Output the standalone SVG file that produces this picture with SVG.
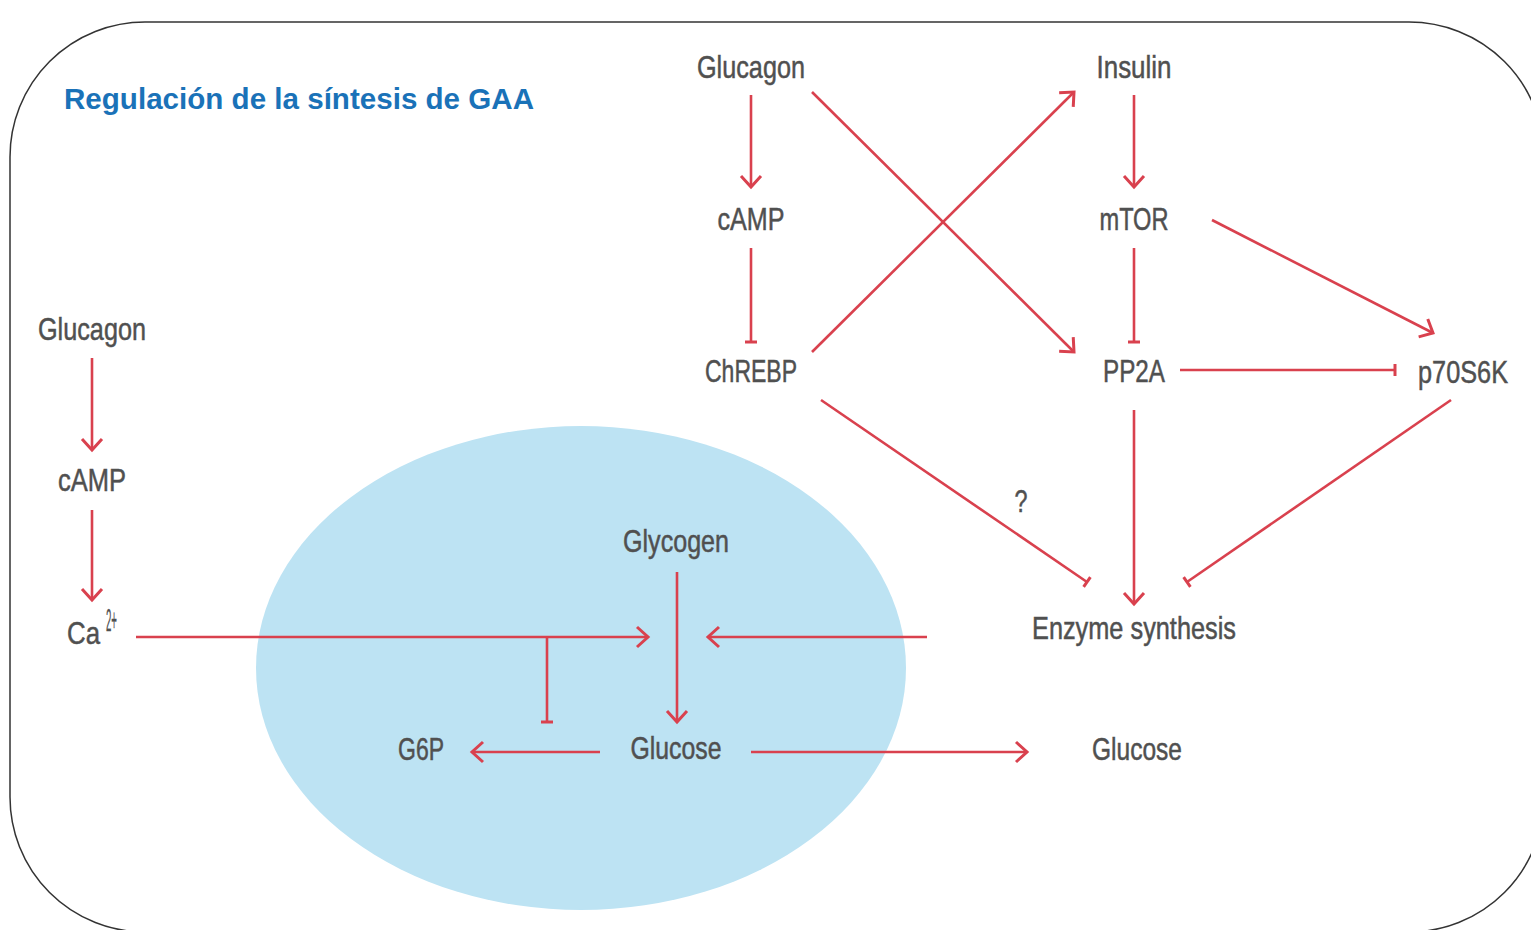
<svg xmlns="http://www.w3.org/2000/svg" width="1531" height="930" viewBox="0 0 1531 930">
<style>
.lbl{font-family:"Liberation Sans",Arial,sans-serif;font-size:32px;fill:#505050;stroke:#505050;stroke-width:0.5;text-anchor:middle}
.c{fill:none;stroke:#d9414e;stroke-width:2.6}
.title{font-family:"Liberation Sans",Arial,sans-serif;font-weight:bold;font-size:30px;fill:#1a72b8}
</style>
<defs>
<marker id="arr" markerUnits="userSpaceOnUse" markerWidth="30" markerHeight="30" viewBox="-15 -15 30 30" refX="0" refY="0" orient="auto" overflow="visible">
<path d="M-11,-10 L0,0 L-11,10" fill="none" stroke="#d9414e" stroke-width="3"/>
</marker>
<marker id="bar" markerUnits="userSpaceOnUse" markerWidth="30" markerHeight="30" viewBox="-15 -15 30 30" refX="0" refY="0" orient="auto" overflow="visible">
<path d="M0,-6 L0,6" fill="none" stroke="#d9414e" stroke-width="3"/>
</marker>
</defs>
<rect x="0" y="0" width="1531" height="930" fill="#fff"/>
<rect x="10" y="22" width="1534" height="910" rx="135" ry="135" fill="none" stroke="#333" stroke-width="1.5"/>
<ellipse cx="581" cy="668" rx="325" ry="242" fill="#bde3f3"/>
<text class="title" x="64" y="109" textLength="470" lengthAdjust="spacingAndGlyphs">Regulación de la síntesis de GAA</text>

<g id="connectors">
<line class="c" x1="751" y1="95" x2="751" y2="187" marker-end="url(#arr)"/>
<line class="c" x1="751" y1="248" x2="751" y2="342" marker-end="url(#bar)"/>
<line class="c" x1="812" y1="92" x2="1074" y2="352" marker-end="url(#arr)"/>
<line class="c" x1="812" y1="352" x2="1074" y2="92" marker-end="url(#arr)"/>
<line class="c" x1="1134" y1="95" x2="1134" y2="187" marker-end="url(#arr)"/>
<line class="c" x1="1134" y1="248" x2="1134" y2="342" marker-end="url(#bar)"/>
<line class="c" x1="1212" y1="220" x2="1433" y2="333" marker-end="url(#arr)"/>
<line class="c" x1="1180" y1="370" x2="1395" y2="370" marker-end="url(#bar)"/>
<line class="c" x1="821" y1="400" x2="1087" y2="582" marker-end="url(#bar)"/>
<line class="c" x1="1134" y1="410" x2="1134" y2="604" marker-end="url(#arr)"/>
<line class="c" x1="1451" y1="400" x2="1187" y2="582" marker-end="url(#bar)"/>
<line class="c" x1="92" y1="358" x2="92" y2="450" marker-end="url(#arr)"/>
<line class="c" x1="92" y1="510" x2="92" y2="600" marker-end="url(#arr)"/>
<line class="c" x1="136" y1="637" x2="648" y2="637" marker-end="url(#arr)"/>
<line class="c" x1="547" y1="637" x2="547" y2="722" marker-end="url(#bar)"/>
<line class="c" x1="927" y1="637" x2="708" y2="637" marker-end="url(#arr)"/>
<line class="c" x1="677" y1="572" x2="677" y2="722" marker-end="url(#arr)"/>
<line class="c" x1="600" y1="752" x2="472" y2="752" marker-end="url(#arr)"/>
<line class="c" x1="751" y1="752" x2="1027" y2="752" marker-end="url(#arr)"/>
<text class="lbl" x="1021" y="512" font-size="28" textLength="13" lengthAdjust="spacingAndGlyphs">?</text>
</g>

<g id="glucagon-top"><text class="lbl" x="751" y="78" textLength="108" lengthAdjust="spacingAndGlyphs">Glucagon</text></g>
<g id="insulin"><text class="lbl" x="1134" y="78" textLength="75" lengthAdjust="spacingAndGlyphs">Insulin</text></g>
<g id="camp-top"><text class="lbl" x="751" y="230" textLength="67" lengthAdjust="spacingAndGlyphs">cAMP</text></g>
<g id="mtor"><text class="lbl" x="1134" y="230" textLength="69" lengthAdjust="spacingAndGlyphs">mTOR</text></g>
<g id="chrebp"><text class="lbl" x="751" y="382" textLength="92" lengthAdjust="spacingAndGlyphs">ChREBP</text></g>
<g id="pp2a"><text class="lbl" x="1134" y="382" textLength="62" lengthAdjust="spacingAndGlyphs">PP2A</text></g>
<g id="p70s6k"><text class="lbl" x="1463" y="383" textLength="90" lengthAdjust="spacingAndGlyphs">p70S6K</text></g>
<g id="glucagon-left"><text class="lbl" x="92" y="340" textLength="108" lengthAdjust="spacingAndGlyphs">Glucagon</text></g>
<g id="camp-left"><text class="lbl" x="92" y="491" textLength="68" lengthAdjust="spacingAndGlyphs">cAMP</text></g>
<g id="ca"><text class="lbl" x="67" y="644" text-anchor="start" style="text-anchor:start" textLength="33" lengthAdjust="spacingAndGlyphs">Ca</text><text class="lbl" x="106" y="631" font-size="13" style="text-anchor:start;stroke-width:0.3" textLength="11" lengthAdjust="spacingAndGlyphs">2+</text></g>
<g id="glycogen"><text class="lbl" x="676" y="552" textLength="106" lengthAdjust="spacingAndGlyphs">Glycogen</text></g>
<g id="glucose-in"><text class="lbl" x="676" y="759" textLength="91" lengthAdjust="spacingAndGlyphs">Glucose</text></g>
<g id="g6p"><text class="lbl" x="421" y="760" textLength="46" lengthAdjust="spacingAndGlyphs">G6P</text></g>
<g id="enzyme"><text class="lbl" x="1134" y="639" textLength="204" lengthAdjust="spacingAndGlyphs">Enzyme synthesis</text></g>
<g id="glucose-out"><text class="lbl" x="1137" y="760" textLength="90" lengthAdjust="spacingAndGlyphs">Glucose</text></g>
</svg>
